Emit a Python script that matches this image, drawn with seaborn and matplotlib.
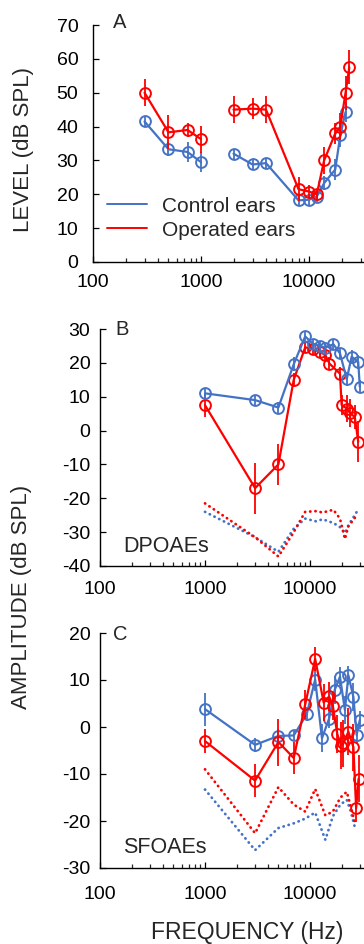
import numpy as np
import pandas as pd
import matplotlib
matplotlib.use("Agg")
import matplotlib.pyplot as plt
import seaborn as sns
from matplotlib.lines import Line2D
from matplotlib.ticker import FixedLocator, LogLocator, NullFormatter, FuncFormatter

# ---------------- data ----------------
# Panel A: thresholds
A_freq_low = [300, 500, 750, 1000]
A_ctrl_low = [41.5, 33.3, 32.5, 29.5]
A_ctrl_low_err = [1.5, 2.0, 3.0, 3.0]
A_op_low = [50.0, 38.3, 39.0, 36.3]
A_op_low_err = [4.0, 5.0, 2.0, 4.0]

A_freq_high = [2000, 3000, 4000, 8000, 10000, 11800, 13800, 17500, 19500, 21800, 23600]
A_ctrl_high = [32.0, 28.8, 29.2, 18.2, 18.4, 19.3, 23.3, 27.3, 37.5, 44.3, np.nan]
A_ctrl_high_err = [1.5, 1.5, 1.5, 1.5, 1.5, 1.5, 2.0, 3.0, 3.5, 3.0, np.nan]
A_op_high = [45.0, 45.3, 45.0, 21.5, 20.8, 20.0, 30.0, 38.0, 40.0, 50.0, 57.5]
A_op_high_err = [4.0, 3.0, 4.0, 3.5, 2.0, 1.5, 4.0, 3.0, 4.0, 5.0, 5.0]

# Panel B: DPOAEs
B_ctrl_freq = [1000, 3000, 5000, 7000, 9000, 10700, 12400, 14000, 16700, 19300, 22400, 24900, 28800, 29800]
B_ctrl = [11.0, 9.0, 6.8, 19.6, 27.8, 25.6, 25.0, 24.5, 25.5, 22.8, 15.2, 21.8, 20.3, 13.0]
B_ctrl_err = [1.5, 1.5, 1.5, 2.0, 1.5, 1.5, 1.5, 1.5, 1.5, 1.5, 2.0, 2.0, 2.0, 2.0]
B_op_freq = [1000, 3000, 5000, 7000, 9000, 10700, 12400, 14000, 15300, 19300, 20000, 22400, 24000, 26700, 28800]
B_op = [7.5, -17.0, -10.0, 15.0, 24.6, 24.0, 23.3, 22.3, 19.8, 16.8, 7.6, 6.5, 5.2, 4.0, -3.3]
B_op_err = [3.5, 7.5, 6.0, 2.0, 1.5, 1.5, 1.5, 1.5, 2.0, 2.0, 3.0, 4.0, 4.0, 3.5, 6.0]
B_noise_freq = [1000, 3000, 5000, 7000, 9000, 11400, 13200, 16700, 19300, 21500, 23200, 27900]
B_noise_ctrl = [-24.0, -31.5, -35.8, -29.0, -26.0, -26.8, -26.2, -27.3, -28.5, -30.3, -28.0, -24.0]
B_noise_op = [-21.5, -31.5, -37.2, -30.0, -24.0, -23.8, -24.2, -23.4, -26.0, -32.0, -28.3, -25.0]

# Panel C: SFOAEs
C_ctrl_freq = [1000, 3000, 5000, 7000, 9300, 11200, 13000, 15200, 17200, 19300, 21500, 23200, 25900, 27800, 29800]
C_ctrl = [3.8, -3.8, -1.9, -1.8, 2.7, 10.1, -2.4, 1.8, 7.9, 10.7, 3.6, 11.0, 6.4, -1.7, 1.5]
C_ctrl_err = [3.5, 1.5, 1.5, 1.0, 1.5, 2.5, 3.0, 2.0, 3.0, 2.0, 3.0, 2.0, 3.0, 2.0, 2.0]
C_op_freq = [1000, 3000, 5000, 7000, 9000, 11200, 13500, 15200, 16500, 18200, 19800, 20800, 23200, 25900, 27500, 29000]
C_op = [-3.0, -11.4, -3.2, -6.6, 4.8, 14.5, 5.2, 6.5, 4.5, -1.5, -4.0, -3.5, -1.0, -4.3, -17.3, -11.0]
C_op_err = [2.5, 3.5, 5.0, 3.5, 3.0, 2.5, 4.0, 3.0, 3.0, 4.0, 5.0, 5.0, 5.0, 5.0, 3.0, 5.0]
C_noise_freq = [1000, 3000, 5000, 7000, 9000, 11200, 14000, 16500, 19500, 22400, 24500, 26500]
C_noise_ctrl = [-13.3, -26.2, -21.5, -20.5, -19.5, -18.2, -24.0, -19.0, -16.5, -15.5, -18.0, -21.0]
C_noise_op = [-9.0, -22.6, -12.8, -16.5, -18.0, -13.2, -18.8, -18.0, -15.0, -13.8, -17.0, -20.0]

x_ticks = [100, 1000, 10000]
legend_labels = ["Control ears", "Operated ears"]

BLUE = "#4472C4"
RED = "#FF0000"

# ---------------- style ----------------
sns.set_style("ticks")
plt.rcParams["font.family"] = ["Liberation Sans", "DejaVu Sans"]

W, H = 364, 944
fig = plt.figure(figsize=(W / 100, H / 100), dpi=100)


def px_axes(left, top, right, bottom):
    return fig.add_axes([left / W, 1 - bottom / H, (right - left) / W, (bottom - top) / H])


axA = px_axes(93, 25, 417, 262)
axB = px_axes(100, 329, 415, 566)
axC = px_axes(100, 633, 415, 868)


def series(ax, f, v, e, color, z):
    df = pd.DataFrame({"f": f, "v": v}).dropna()
    sns.lineplot(data=df, x="f", y="v", ax=ax, color=color, lw=1.6, marker="o",
                 ms=7.8, mfc="none", mec=color, mew=1.4, estimator=None,
                 sort=False, zorder=z)
    ax.errorbar(f, v, yerr=e, fmt="none", ecolor=color, elinewidth=1.3,
                capsize=0, zorder=z)


def noise(ax, f, v, color, z):
    df = pd.DataFrame({"f": f, "v": v})
    sns.lineplot(data=df, x="f", y="v", ax=ax, color=color, lw=2.0,
                 linestyle=(0, (0.1, 1.8)), dash_capstyle="round",
                 estimator=None, sort=False, zorder=z)


def style_axis(ax, ylim, yticks, xpad, ypad):
    ax.set_xscale("log")
    ax.set_xlim(100, 100000)
    ax.set_ylim(*ylim)
    ax.xaxis.set_major_locator(FixedLocator(x_ticks))
    ax.xaxis.set_major_formatter(FuncFormatter(lambda v, p: f"{int(round(v))}"))
    ax.xaxis.set_minor_locator(LogLocator(base=10, subs=np.arange(2, 10)))
    ax.xaxis.set_minor_formatter(NullFormatter())
    ax.set_yticks(yticks)
    ax.set_yticklabels([str(t) for t in yticks])
    ax.tick_params(axis="both", which="major", direction="in", length=4.5,
                   width=0.9, color="black", labelsize=14, labelcolor="black")
    ax.tick_params(axis="x", which="minor", direction="in", length=3.2, width=0.9)
    ax.tick_params(axis="x", which="major", pad=xpad)
    ax.tick_params(axis="y", which="major", pad=ypad)
    for s in ["top", "right"]:
        ax.spines[s].set_visible(False)
    for s in ["left", "bottom"]:
        ax.spines[s].set_linewidth(1.0)
        ax.spines[s].set_color("black")
    ax.set_xlabel("")
    ax.set_ylabel("")
    ax.patch.set_alpha(0)


# Panel A
series(axA, A_freq_low, A_ctrl_low, A_ctrl_low_err, BLUE, 3)
series(axA, A_freq_high, A_ctrl_high, A_ctrl_high_err, BLUE, 3)
series(axA, A_freq_low, A_op_low, A_op_low_err, RED, 4)
series(axA, A_freq_high, A_op_high, A_op_high_err, RED, 4)
style_axis(axA, (0, 70), list(range(0, 71, 10)), 8.5, 10.5)
axA.text(0.062, 0.987, "A", transform=axA.transAxes, fontsize=14.5, va="baseline", ha="left")
handles = [Line2D([], [], color=BLUE, lw=1.4), Line2D([], [], color=RED, lw=1.4)]
axA.legend(handles=handles, labels=legend_labels, loc="center left",
           bbox_to_anchor=(0.043, 0.185), frameon=False, fontsize=15,
           handlelength=1.9, handletextpad=0.75, borderpad=0, borderaxespad=0,
           labelspacing=0.25)

# Panel B
noise(axB, B_noise_freq, B_noise_ctrl, BLUE, 2)
noise(axB, B_noise_freq, B_noise_op, RED, 2)
series(axB, B_op_freq, B_op, B_op_err, RED, 3)
series(axB, B_ctrl_freq, B_ctrl, B_ctrl_err, BLUE, 4)
style_axis(axB, (-40, 30), list(range(-40, 31, 10)), 11, 7)
axB.text(0.048, 0.975, "B", transform=axB.transAxes, fontsize=14.5, va="baseline", ha="left")
axB.text(0.073, 0.06, "DPOAEs", transform=axB.transAxes, fontsize=15.5, va="baseline", ha="left")

# Panel C
noise(axC, C_noise_freq, C_noise_ctrl, BLUE, 2)
noise(axC, C_noise_freq, C_noise_op, RED, 2)
series(axC, C_ctrl_freq, C_ctrl, C_ctrl_err, BLUE, 3)
series(axC, C_op_freq, C_op, C_op_err, RED, 4)
style_axis(axC, (-30, 20), list(range(-30, 21, 10)), 13, 7)
axC.text(0.042, 0.97, "C", transform=axC.transAxes, fontsize=14.5, va="baseline", ha="left")
axC.text(0.073, 0.064, "SFOAEs", transform=axC.transAxes, fontsize=15.5, va="baseline", ha="left")

fig.text(24 / W, 1 - 150 / H, "LEVEL (dB SPL)", rotation=90, ha="center", va="center", fontsize=16)
fig.text(22 / W, 1 - 597 / H, "AMPLITUDE (dB SPL)", rotation=90, ha="center", va="center", fontsize=16)
fig.text(247 / W, 1 - 932 / H, "FREQUENCY (Hz)", ha="center", va="center", fontsize=16.5)

fig.savefig("out.png", dpi=100)
